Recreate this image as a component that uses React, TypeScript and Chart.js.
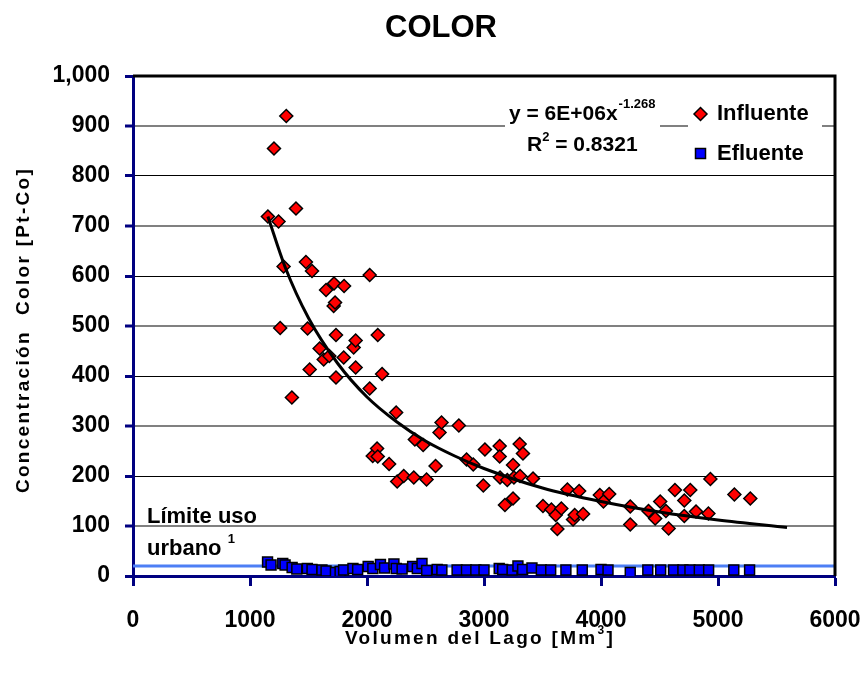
import { useEffect, useRef } from 'react';
import { Chart, registerables } from 'chart.js';

Chart.register(...registerables);

const FONT = "'Liberation Sans', Arial, Helvetica, sans-serif";

// Influente (red diamonds)
const influenteX = [1153, 1205, 1244, 1258, 1287, 1310, 1358, 1393, 1478, 1492, 1510, 1530, 1595, 1630, 1650, 1678, 1715, 1718, 1727, 1735, 1735, 1801, 1804, 1886, 1903, 1903, 2023, 2023, 2049, 2086, 2092, 2092, 2129, 2189, 2249, 2258, 2314, 2400, 2409, 2480, 2509, 2586, 2620, 2637, 2785, 2851, 2908, 2994, 3008, 3134, 3134, 3137, 3179, 3199, 3248, 3248, 3256, 3305, 3308, 3333, 3419, 3504, 3576, 3613, 3627, 3661, 3713, 3761, 3775, 3813, 3847, 3990, 4021, 4070, 4250, 4250, 4406, 4463, 4506, 4555, 4578, 4632, 4712, 4712, 4763, 4812, 4918, 4935, 5140, 5276];
const influenteY = [719, 855, 709, 496, 619, 920, 357, 735, 628, 495, 413, 610, 455, 433, 572, 440, 540, 585, 547, 482, 397, 437, 580, 457, 471, 417, 602, 375, 240, 255, 482, 239, 404, 224, 327, 189, 200, 197, 273, 262, 193, 220, 287, 307, 301, 233, 223, 181, 253, 260, 239, 197, 142, 192, 222, 155, 197, 264, 200, 245, 195, 140, 133, 122, 94, 135, 173, 113, 122, 170, 124, 162, 149, 164, 139, 103, 130, 115, 149, 130, 95, 172, 151, 120, 172, 129, 125, 194, 163, 155];

// Efluente (blue squares)
const efluenteX = [1150, 1180, 1280, 1300, 1360, 1400, 1490, 1530, 1615, 1650, 1730, 1770, 1800, 1880, 1920, 2010, 2050, 2115, 2150, 2230, 2250, 2300, 2390, 2430, 2470, 2510, 2600, 2640, 2770, 2850, 2930, 3000, 3130, 3160, 3240, 3290, 3330, 3410, 3490, 3570, 3700, 3840, 4000, 4060, 4250, 4400, 4510, 4620, 4700, 4760, 4840, 4920, 5135, 5270];
const efluenteY = [28, 22, 25, 22, 17, 14, 15, 13, 12, 10, 7, 9, 12, 15, 13, 19, 15, 23, 16, 24, 15, 14, 19, 15, 25, 11, 13, 12, 12, 12, 12, 12, 15, 13, 12, 20, 13, 16, 12, 12, 12, 12, 13, 12, 7, 12, 12, 12, 12, 12, 12, 12, 12, 12];

// Power trendline y = 6E+06x^-1.268 (as drawn)
const trendX = [1153, 1300, 1500, 1750, 2000, 2250, 2500, 2750, 3000, 3500, 4000, 4500, 5000, 5590];
const trendY = [719, 618, 516, 425, 358, 309, 270, 240, 215, 176, 149, 128, 112, 97];

// Límite uso urbano
const limitX = [0, 6000];
const limitY = [20, 20];

const xMin = 0, xMax = 6000, xStep = 1000;
const yMin = 0, yMax = 1000, yStep = 100;

const titleText = 'COLOR';
const yTitleText = 'Concentración  Color [Pt-Co]';
const xTitleBase = 'Volumen del Lago [Mm';
const xTitleSup = '3';
const xTitleEnd = ']';
const legendLabels = ['Influente', 'Efluente'];
const eqLine1 = 'y = 6E+06x';
const eqLine1Sup = '-1.268';
const eqLine2Base = 'R';
const eqLine2Sup = '2';
const eqLine2End = ' = 0.8321';
const limitLabel1 = 'Límite uso';
const limitLabel2 = 'urbano ';
const limitLabel2Sup = '1';

const pts = (xs: number[], ys: number[]) => xs.map((x, i) => ({ x, y: ys[i] }));

const overlay = {
  id: 'overlay',
  afterDraw(chart: any) {
    const ctx = chart.ctx as CanvasRenderingContext2D;
    const area = chart.chartArea;
    ctx.save();
    // right border and top border
    ctx.strokeStyle = '#000';
    ctx.lineWidth = 3;
    ctx.beginPath();
    ctx.moveTo(area.left, area.top);
    ctx.lineTo(area.right, area.top);
    ctx.lineTo(area.right, area.bottom);
    ctx.stroke();

    // white boxes behind equation and legend
    ctx.fillStyle = '#fff';
    ctx.fillRect(505, 96, 155, 62);
    ctx.fillRect(688, 96, 134, 72);

    ctx.fillStyle = '#000';
    ctx.textAlign = 'left';
    ctx.textBaseline = 'alphabetic';

    // equation
    ctx.font = `bold 21px ${FONT}`;
    ctx.fillText(eqLine1, 509, 120);
    let w = ctx.measureText(eqLine1).width;
    ctx.font = `bold 13px ${FONT}`;
    ctx.fillText(eqLine1Sup, 509 + w + 1, 108);
    ctx.font = `bold 21px ${FONT}`;
    ctx.fillText(eqLine2Base, 527, 151);
    w = ctx.measureText(eqLine2Base).width;
    ctx.font = `bold 13px ${FONT}`;
    ctx.fillText(eqLine2Sup, 527 + w, 141);
    const w2 = ctx.measureText(eqLine2Sup).width;
    ctx.font = `bold 21px ${FONT}`;
    ctx.fillText(eqLine2End, 527 + w + w2, 151);

    // legend
    ctx.lineWidth = 1.5;
    ctx.strokeStyle = '#000';
    ctx.fillStyle = '#ff0000';
    ctx.beginPath();
    ctx.moveTo(694, 114);
    ctx.lineTo(700.5, 107.5);
    ctx.lineTo(707, 114);
    ctx.lineTo(700.5, 120.5);
    ctx.closePath();
    ctx.fill();
    ctx.stroke();
    ctx.fillStyle = '#0000ff';
    ctx.fillRect(695.5, 148.5, 10, 10);
    ctx.strokeRect(695.5, 148.5, 10, 10);
    ctx.fillStyle = '#000';
    ctx.font = `bold 22px ${FONT}`;
    ctx.textBaseline = 'middle';
    ctx.fillText(legendLabels[0], 717, 114);
    ctx.fillText(legendLabels[1], 717, 154);

    // title
    ctx.textAlign = 'center';
    ctx.font = `bold 31px ${FONT}`;
    ctx.fillText(titleText, 441, 28);

    // límite label
    ctx.textAlign = 'left';
    ctx.textBaseline = 'alphabetic';
    ctx.font = `bold 22px ${FONT}`;
    ctx.fillText(limitLabel1, 147, 523);
    ctx.fillText(limitLabel2, 147, 555);
    w = ctx.measureText(limitLabel2).width;
    ctx.font = `bold 13px ${FONT}`;
    ctx.fillText(limitLabel2Sup, 147 + w, 543);

    // x title
    (ctx as any).letterSpacing = '2.3px';
    ctx.font = `bold 19px ${FONT}`;
    const wb = ctx.measureText(xTitleBase).width;
    const we = ctx.measureText(xTitleEnd).width;
    ctx.font = `bold 12px ${FONT}`;
    const ws = ctx.measureText(xTitleSup).width;
    const total = wb + ws + we;
    const x0 = 480 - total / 2;
    ctx.font = `bold 19px ${FONT}`;
    ctx.fillText(xTitleBase, x0, 644);
    ctx.font = `bold 12px ${FONT}`;
    ctx.fillText(xTitleSup, x0 + wb, 634);
    ctx.font = `bold 19px ${FONT}`;
    ctx.fillText(xTitleEnd, x0 + wb + ws, 644);

    // y title
    ctx.translate(29, 330);
    ctx.rotate(-Math.PI / 2);
    ctx.textAlign = 'center';
    ctx.font = `bold 19px ${FONT}`;
    ctx.fillText(yTitleText, 0, 0);
    (ctx as any).letterSpacing = '0px';
    ctx.restore();
  },
};

export default function App() {
  const ref = useRef<HTMLCanvasElement>(null);
  useEffect(() => {
    if (!ref.current) return;
    const chart = new Chart(ref.current, {
      type: 'scatter',
      data: {
        datasets: [
          {
            label: 'Trend',
            data: pts(trendX, trendY),
            showLine: true,
            borderColor: '#000',
            borderWidth: 3,
            pointRadius: 0,
            cubicInterpolationMode: 'monotone',
            order: 0,
          } as any,
          {
            label: legendLabels[0],
            data: pts(influenteX, influenteY),
            pointStyle: 'rectRot',
            pointRadius: 6.5,
            backgroundColor: '#ff0000',
            borderColor: '#000',
            borderWidth: 1.5,
            order: 1,
          },
          {
            label: legendLabels[1],
            data: pts(efluenteX, efluenteY),
            pointStyle: 'rect',
            pointRadius: 7,
            backgroundColor: '#0000ff',
            borderColor: '#000',
            borderWidth: 1.5,
            order: 2,
          },
          {
            label: 'Limite',
            data: pts(limitX, limitY),
            showLine: true,
            borderColor: '#4d7ff5',
            borderWidth: 3,
            pointRadius: 0,
            order: 3,
          },
        ],
      },
      options: {
        animation: false,
        responsive: false,
        maintainAspectRatio: false,
        layout: { padding: { top: 76, right: 30, left: 0, bottom: 0 } },
        plugins: {
          legend: { display: false },
          title: { display: false },
          tooltip: { enabled: false },
        },
        scales: {
          x: {
            type: 'linear',
            min: xMin,
            max: xMax,
            afterFit: (s: any) => { s.height = 101; s.paddingLeft = 0; s.paddingRight = 0; },
            ticks: {
              stepSize: xStep,
              padding: 21,
              color: '#000',
              font: { family: FONT, size: 23, weight: 'bold' },
              callback: (v: any) => String(v),
              maxRotation: 0,
            },
            grid: {
              drawOnChartArea: false,
              drawTicks: true,
              tickLength: 10,
              tickColor: '#000080',
              tickWidth: 3,
            },
            border: { color: '#000080', width: 3 },
          },
          y: {
            type: 'linear',
            min: yMin,
            max: yMax,
            afterFit: (s: any) => { s.width = 133; s.paddingTop = 0; s.paddingBottom = 0; },
            ticks: {
              stepSize: yStep,
              padding: 15,
              color: '#000',
              font: { family: FONT, size: 23, weight: 'bold' },
              callback: (v: any) => Number(v).toLocaleString('en-US'),
            },
            grid: {
              drawTicks: true,
              tickLength: 8,
              tickColor: '#000080',
              tickWidth: 3,
              color: (c: any) => (c.tick && c.tick.value % 200 === 0 ? '#000' : '#808080'),
              lineWidth: (c: any) => (c.tick && c.tick.value % 200 === 0 ? 1 : 2),
            },
            border: { color: '#000080', width: 3 },
          },
        },
      },
      plugins: [overlay],
    });
    return () => chart.destroy();
  }, []);
  return (
    <div style={{ position: 'absolute', left: 0, top: 0, width: 865, height: 677, background: '#fff' }}>
      <canvas ref={ref} width={865} height={677} style={{ display: 'block', width: 865, height: 677 }} />
    </div>
  );
}
